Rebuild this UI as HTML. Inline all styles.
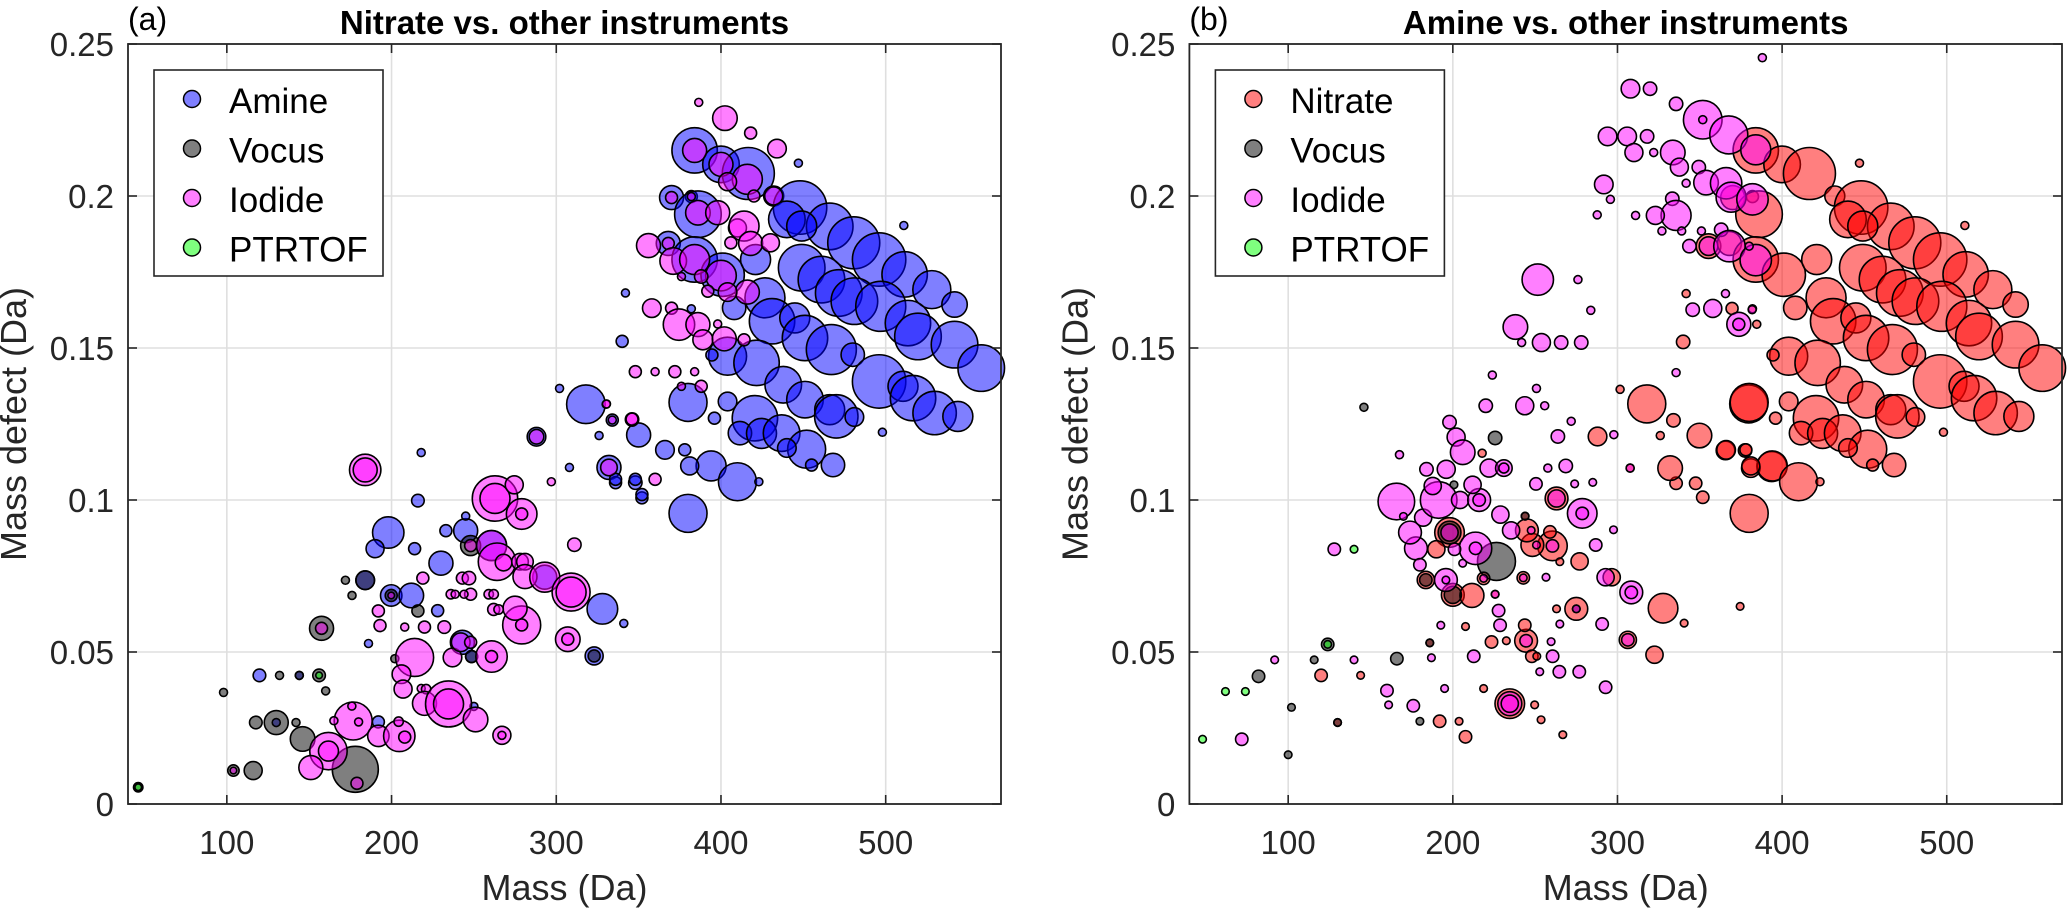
<!DOCTYPE html>
<html><head><meta charset="utf-8"><title>Mass defect plots</title>
<style>
html,body{margin:0;padding:0;background:#fff;}
svg{display:block;font-family:"Liberation Sans",Arial,sans-serif;}
</style></head>
<body>
<svg id="chart" width="2067" height="909" viewBox="0 0 2067 909" xmlns="http://www.w3.org/2000/svg"></svg>
<script>
// ---------- DATA: panel (a) ----------
const xTicks = [100, 200, 300, 400, 500];
const yTicks = [0, 0.05, 0.1, 0.15, 0.2, 0.25];
const yTickLabels = ["0", "0.05", "0.1", "0.15", "0.2", "0.25"];
const panelTitles = ["Nitrate vs. other instruments", "Amine vs. other instruments"];
const panelLetters = ["(a)", "(b)"];
const legendA = ["Amine", "Vocus", "Iodide", "PTRTOF"];
const legendB = ["Nitrate", "Vocus", "Iodide", "PTRTOF"];

const aAmineMass = [119.8,144,130,192,184,199.8,212,198,190,214,216,218,230,228,186,250,243,248.6,245,233,245,260.7,293,328,341,323,288,302,318,334,326,350,308,332,336,348,352,447,384,400,416.6,432,448,466,480.6,496,511.5,528,541.8,511,440,449,370,382,386,368,384,401,421,342,449,461,471.5,481,497,513.5,519.6,541.8,558,426.7,408,431,444.8,451,467,480,496,510.5,516.6,529.7,543.8,498,340,404,394.5,421.6,437.8,451,466,470,481,420.6,411.5,424.6,436.8,452,468,455,440,404,396,380,394,410,423,380,366,378,381,348,336,352,382];
const aAmineMD = [0.0423,0.0423,0.0268,0.027,0.0736,0.0686,0.0686,0.0893,0.084,0.084,0.0998,0.1156,0.0792,0.0636,0.0528,0.0321,0.0532,0.0485,0.0899,0.0899,0.0947,0.085,0.0746,0.0642,0.0594,0.0487,0.1208,0.1367,0.1315,0.1263,0.1212,0.1214,0.1107,0.1107,0.1057,0.1057,0.1007,0.2108,0.215,0.2104,0.2074,0.2,0.1962,0.19,0.1846,0.1791,0.1742,0.1692,0.1643,0.1903,0.1923,0.1901,0.1995,0.1998,0.194,0.1844,0.1791,0.1741,0.1791,0.1681,0.1764,0.1725,0.1681,0.1654,0.1637,0.1582,0.1538,0.1511,0.1434,0.1665,0.1632,0.1588,0.1599,0.1533,0.1495,0.1478,0.139,0.1374,0.1335,0.1286,0.1275,0.1223,0.1522,0.1473,0.1477,0.1451,0.1379,0.133,0.1297,0.1275,0.1273,0.1269,0.122,0.1219,0.122,0.1167,0.1115,0.1115,0.1171,0.1324,0.1269,0.1321,0.1112,0.106,0.106,0.0956,0.1165,0.1165,0.1112,0.1068,0.1068,0.1018,0.1629];
const aAmineSize = [6.3,4,4,6,9.3,10.7,12.3,15.7,9,6,6.3,4,12,6,4,4,12,6,12,6,4,15,12,15.3,4,9,9.3,4,19.3,6,4,12,4,12,6,6.7,6,4,22.7,18.3,26,10,26.7,23.3,26,26.7,22.7,19,12.7,4,18.3,15,12,6,23.3,12,22.7,21.7,15,4,23.3,23.3,23.3,23.3,25,22.7,23.3,23.3,23.3,20,11.7,22.7,15,22.7,25,11.7,26.7,15,22.7,21.7,15,4,6,19,6,22.7,18.3,18.3,15,21.7,9.3,22.7,11.7,15,18.3,19,11.7,6,9.3,9.3,6,19,15,19,4,19,9.3,6,9,6,6,6,4];

const aVocusMass = [98,104,116,132,144,156,160,117.6,130,142,146,178,157.5,172,184,176,199.8,216,202,248,248.6,323,46.2];
const aVocusMD = [0.0367,0.011,0.011,0.0423,0.0423,0.0423,0.0372,0.0268,0.0268,0.0268,0.0214,0.0114,0.0578,0.0736,0.0736,0.0686,0.0686,0.0635,0.0478,0.085,0.0485,0.0487,0.0055];
const aVocusSize = [4,5.7,9,4,4,6.3,4,6.3,12,4,12.3,23,12,4,9.3,4,6,6,4,10,6,6,4.7];

const aIodideMass = [104,161.7,161.7,151,179,176.7,175.9,180,165,192,204.7,208,204.3,157.5,184,184,192,193,208,220,232,219,199.8,214,206,207,218,221,220,234.6,234.6,251,267,267,237,242,248,260.7,260.7,279,279,275,262,265,259,262,236,238.6,248,244,243,247,248,260.7,264,268,278,281,281,293,309,309,307,307,262.8,262.8,274.5,279,279,311,288,330.3,334,346,297,332,386.5,402.4,418,434,384,400,416,404,432,420,370,382,386,398,410,414,418,430,406,356,368,371,384,400,388,376,416,404,392,358,370,374.5,386,389,402,414,398,348,360,372,384,388,376,330.5,346,360];
const aIodideMD = [0.011,0.0174,0.0174,0.012,0.0068,0.0273,0.0322,0.027,0.0274,0.0224,0.0224,0.022,0.0271,0.0578,0.1099,0.1099,0.0635,0.0587,0.0582,0.0582,0.0582,0.0743,0.0686,0.0482,0.0427,0.0378,0.038,0.0378,0.0331,0.0329,0.0329,0.0278,0.0226,0.0226,0.0482,0.0532,0.0532,0.0485,0.0485,0.0589,0.0589,0.0644,0.064,0.064,0.069,0.069,0.069,0.069,0.069,0.069,0.0743,0.0743,0.085,0.085,0.0797,0.0794,0.0797,0.0797,0.0748,0.0746,0.0697,0.0697,0.0542,0.0542,0.1005,0.1005,0.105,0.0954,0.0954,0.0853,0.1208,0.1315,0.1263,0.1265,0.106,0.1107,0.2308,0.2256,0.2207,0.2156,0.215,0.2104,0.2055,0.2047,0.2,0.2,0.1995,0.1998,0.1945,0.1945,0.1895,0.1901,0.1844,0.1846,0.1846,0.1837,0.1844,0.1786,0.1791,0.1738,0.1735,0.1735,0.1684,0.1684,0.1687,0.1631,0.1631,0.1577,0.1577,0.1527,0.153,0.1527,0.1579,0.1422,0.1422,0.1422,0.1422,0.1374,0.1374,0.1316,0.1266,0.1068];
const aIodideSize = [3.3,18.7,10,12,6,19,4,4,4,10.7,15.7,6,4.7,6,15.7,12,6,6,4,6,6.3,6,3.3,19,9.3,9,4,4.7,12,23,15,12.3,9,4,9.3,9.3,6,15.7,6,19,6,12,6,4.7,4.7,4.7,4.7,4,6,4,6,6.7,6,15,18.7,8.3,8.3,8.3,12,15,19,15,12.3,6,22.7,15,9,15.3,6,6.7,7.3,4,4,6.7,4,8.3,4,12.3,6,9.3,12,12,15,9,9,6,6,4,12.3,12,9,15,12,9,6,12,6,13.3,15,15.3,6.7,4,12,9.3,6,9.3,6,15.7,12,10,12,6,4,6,4,6,4,6,4,4,6,6];

const aPtrMass = [46.2, 156];
const aPtrMD = [0.0055, 0.0423];
const aPtrSize = [3.3, 3.3];

// ---------- DATA: panel (b) ----------
const bNitrateOwnMass = [120,130,144,192,203.8,207.7,218.7,186,207.7,223.5,232.5,244.5,243.7,248,251,234.6,249.7,253.6,266.8,275,263,306.3,322.5,327.7,340.5,374.5,296.5,277,260.5,248.3,245,259,265,243.9,263,351.8,347.5,335.6,218.7,242.8,198,190,183.6,200,211.6,225.7,217.8,287.9,317.8,334,326,349.8,379.7,365.6,377.5,393.7,381,332,307.7,301.6,339.9,341.7,369.6,384.6,355.3];
const bNitrateOwnMD = [0.0423,0.0268,0.0423,0.0272,0.0272,0.0221,0.038,0.053,0.0584,0.0533,0.0537,0.0537,0.0588,0.0486,0.0486,0.033,0.0326,0.0277,0.0228,0.0642,0.0642,0.054,0.0491,0.0644,0.0595,0.065,0.0746,0.0798,0.0849,0.0852,0.09,0.0895,0.0797,0.0947,0.1005,0.1009,0.1055,0.1055,0.0742,0.0744,0.0893,0.0838,0.0737,0.0688,0.0686,0.069,0.1154,0.1209,0.1316,0.1262,0.1212,0.1212,0.1316,0.1163,0.1163,0.111,0.1105,0.1105,0.1105,0.1364,0.152,0.1679,0.163,0.1578,0.1835];
const bNitrateOwnSize = [6.2,3.8,3.8,6.2,3.8,6.2,3.8,3.8,3.8,6.2,3.8,11.4,6.2,6.2,3.8,14.8,3.8,3.8,3.8,11.4,3.8,8.6,8.6,14.8,3.8,3.8,8.6,8.6,14.8,11.4,11.4,6.2,3.8,3.8,11.4,6.2,6.2,6.2,6.2,6.2,14.8,8.6,8.6,11.4,12,3.8,4,9.3,19,6.7,4,12.3,19,9.3,6.7,15,9.3,12.3,4,4,6.7,4,6,4,12.3];
// the large nitrate cluster coincides with the amine cluster of panel (a)
const bNitrateMass = bNitrateOwnMass.slice();
const bNitrateMD = bNitrateOwnMD.slice();
const bNitrateSize = bNitrateOwnSize.slice();
for (let i = 0; i < aAmineMass.length; i++) {
  if (aAmineMass[i] >= 360) { bNitrateMass.push(aAmineMass[i]); bNitrateMD.push(aAmineMD[i]); bNitrateSize.push(aAmineSize[i]); }
}

const bVocusMass = [100,82,102,115.8,124,130,166,180,186,226.5,243.9,198,183.6,200,275,200.7,146,225.7];
const bVocusMD = [0.0162,0.042,0.0318,0.0474,0.0525,0.0268,0.0478,0.0272,0.053,0.0798,0.0947,0.0893,0.0737,0.0688,0.0642,0.105,0.1305,0.1204];
const bVocusSize = [3.8,6.2,3.8,3.8,6.2,3.8,6.2,3.8,3.8,19,3.8,11.4,6.2,8.6,3.8,3.8,4,6.7];

const bIodideMass = [71.8,91.8,128,140,160,161,176,195,187,192.7,212.7,227.8,228.7,225.7,244.5,259.7,260.6,234.6,234.6,252.8,264.7,276.8,292.8,275,265,290.7,306.3,308.4,308.4,292.8,286.8,297.6,260.5,250.8,247.6,278.6,278.6,263,235.4,228.9,213.8,213.8,206,218.7,242.8,256.6,198,201,177.6,174,182,165.7,170,191.4,187.8,204.4,216,216,212,180,195.8,195.8,250.5,274,285,251.6,276,283.8,238,241.8,253.8,265.8,278,224,250.8,220,243.7,255.8,271.9,263.8,198,202,206,167.6,184,196,222,231,231,268.6,257.7,297.8,307.7,335.6,345.7,357.9,381.8,365.6,373.7,373.7,291.7,295.7,287.7,307.9,319.8,335.6,351.8,351.8,367.6,384,294,305.9,318,310,322,333.6,337.6,349.4,341.7,353.8,366,369,382,333.3,335.6,323,311,327,339,351,363,355.3,368,384,343.7,380,388];
const bIodideMD = [0.0213,0.0474,0.0838,0.0474,0.0373,0.0326,0.0323,0.038,0.0481,0.0588,0.0486,0.0636,0.0588,0.069,0.0537,0.0534,0.0486,0.033,0.033,0.0435,0.0435,0.0435,0.0384,0.0642,0.0592,0.0592,0.054,0.0696,0.0696,0.0746,0.0852,0.0902,0.0849,0.0852,0.09,0.0956,0.0956,0.1005,0.09,0.0952,0.0841,0.0841,0.0792,0.0742,0.0744,0.0746,0.0893,0.0838,0.0841,0.0893,0.0942,0.0995,0.0946,0.1,0.1046,0.1,0.1,0.1,0.105,0.0787,0.0737,0.0737,0.1053,0.1053,0.1058,0.1725,0.1725,0.1624,0.1569,0.1518,0.1518,0.1518,0.1518,0.1411,0.1367,0.131,0.131,0.131,0.1259,0.1209,0.1256,0.1207,0.1157,0.1149,0.1101,0.1101,0.1105,0.1105,0.1105,0.1112,0.1105,0.1215,0.1105,0.1419,0.1626,0.163,0.1626,0.1679,0.1578,0.1578,0.2038,0.1989,0.1938,0.2353,0.2353,0.2303,0.2251,0.2251,0.2201,0.2152,0.2196,0.2196,0.2196,0.2143,0.2143,0.2143,0.2095,0.2095,0.2042,0.2044,0.2042,0.1996,0.1989,0.1991,0.1936,0.1936,0.1936,0.1885,0.1885,0.1885,0.1889,0.1835,0.1835,0.1789,0.1835,0.1835,0.2455];
const bIodideSize = [6.2,3.8,6.2,3.8,6.2,3.8,6.2,3.8,3.8,3.8,6.2,6.2,6.2,3.8,6.2,3.8,6.2,12,8.6,3.8,6.2,6.2,6.2,3.8,3.8,6.2,6.2,11.4,6.2,8.6,6.2,3.8,6.2,3.8,3.8,14.8,6.2,8.6,8.6,8.6,16.2,6.2,3.8,3.8,3.8,3.8,8.6,6.2,11.4,11.4,8.6,18.3,3.8,18.3,8.6,8.6,11.4,6.2,8.6,6.2,11.4,3.8,6.2,3.8,3.8,15.7,4,4,12.3,4,9,6.7,6.7,4,4,6.7,9,4,4,6.7,6.7,9,12.3,4,6.7,9,9,8.3,5,6.7,4,4,4,4,6.7,9,4,4,12,6,9.3,4,4,9.3,6.7,6.7,19.3,4,19,15,9.3,9.3,6.7,9,4,12.3,9,6.7,4,12.3,15.7,15,15.7,6.7,15,9,4,4,4,4,6.7,9.3,15.7,15.7,6.7,4,4];

const bPtrMass = [48, 61.9, 74, 124, 140];
const bPtrMD = [0.0213, 0.037, 0.037, 0.0525, 0.0838];
const bPtrSize = [3.8, 3.8, 3.8, 3.8, 3.8];

// ---------- RENDERING ----------
const NS = "http://www.w3.org/2000/svg";
const svg = document.getElementById("chart");
const X_MIN = 40, X_MAX = 570, Y_MIN = 0, Y_MAX = 0.25;
const PLOT_TOP = 44, PLOT_BOTTOM = 804;
const COLORS = {
  blue: "rgba(0,0,255,0.5)", gray: "rgba(0,0,0,0.5)", magenta: "rgba(255,0,255,0.5)",
  green: "rgba(0,255,0,0.5)", red: "rgba(255,0,0,0.5)"
};
function el(tag, attrs, parent) {
  const e = document.createElementNS(NS, tag);
  for (const k in attrs) e.setAttribute(k, attrs[k]);
  (parent || svg).appendChild(e);
  return e;
}
function rScale(s) { return s; }

function drawPanel(idx, left, right, series, legendLabels) {
  const xs = m => left + (m - X_MIN) / (X_MAX - X_MIN) * (right - left);
  const ys = d => PLOT_BOTTOM - (d - Y_MIN) / (Y_MAX - Y_MIN) * (PLOT_BOTTOM - PLOT_TOP);
  const g = el("g", {});
  
  
  const grid = el("g", {stroke: "#dfdfdf", "stroke-width": 1.6}, g);
  
  
  xTicks.forEach(t => el("line", {x1: xs(t), x2: xs(t), y1: PLOT_TOP, y2: PLOT_BOTTOM}, grid));
  yTicks.forEach(t => el("line", {x1: left, x2: right, y1: ys(t), y2: ys(t)}, grid));
  const marks = el("g", {stroke: "#000", "stroke-width": 1.6}, g);
  
  
  series.forEach(s => {
    for (let i = 0; i < s.mass.length; i++) {
      const c = el("circle", {cx: xs(s.mass[i]), cy: ys(s.md[i]), r: rScale(s.size[i]), fill: COLORS[s.color]}, marks);
      
      
    }
  });
  const box = el("rect", {x: left, y: PLOT_TOP, width: right - left, height: PLOT_BOTTOM - PLOT_TOP, fill: "none", stroke: "#262626", "stroke-width": 1.8}, g);
  
  
  const ticks = el("g", {stroke: "#262626", "stroke-width": 1.6}, g);
  
  
  xTicks.forEach(t => {
    el("line", {x1: xs(t), x2: xs(t), y1: PLOT_BOTTOM, y2: PLOT_BOTTOM - 9}, ticks);
    el("line", {x1: xs(t), x2: xs(t), y1: PLOT_TOP, y2: PLOT_TOP + 9}, ticks);
    const tl = el("text", {x: xs(t), y: 854, "font-size": 33, "text-anchor": "middle", fill: "#262626"}, g);
    tl.textContent = String(t);
    
    
  });
  yTicks.forEach((t, i) => {
    el("line", {x1: left, x2: left + 9, y1: ys(t), y2: ys(t)}, ticks);
    el("line", {x1: right, x2: right - 9, y1: ys(t), y2: ys(t)}, ticks);
    const tl = el("text", {x: left - 14, y: ys(t) + 12, "font-size": 33, "text-anchor": "end", fill: "#262626"}, g);
    tl.textContent = yTickLabels[i];
    
    
  });
  const cx = (left + right) / 2;
  const xl = el("text", {x: cx, y: 900, "font-size": 36, "text-anchor": "middle", fill: "#262626"}, g);
  xl.textContent = "Mass (Da)";
  
  
  const yx = left - 102, yy = 424;
  const yl = el("text", {x: yx, y: yy, "font-size": 36, "text-anchor": "middle", fill: "#262626", transform: "rotate(-90 " + yx + " " + yy + ")"}, g);
  yl.textContent = "Mass defect (Da)";
  
  
  const ti = el("text", {x: cx, y: 34, "font-size": 33, "font-weight": "bold", "text-anchor": "middle", fill: "#000"}, g);
  ti.textContent = panelTitles[idx];
  
  
  const lt = el("text", {x: left, y: 30, "font-size": 32, fill: "#000"}, g);
  lt.textContent = panelLetters[idx];
  
  
  const lg = el("g", {}, g);
  
  
  el("rect", {x: left + 26, y: 70, width: 229, height: 206, fill: "#fff", stroke: "#262626", "stroke-width": 1.6}, lg);
  legendLabels.forEach((lab, i) => {
    const s = series[i];
    const row = el("g", {}, lg);
    
    
    el("circle", {cx: left + 64, cy: 99 + i * 49.5, r: 8.5, fill: COLORS[s.color], stroke: "#000", "stroke-width": 1.5}, row);
    const t = el("text", {x: left + 101, y: 113 + i * 49.5, "font-size": 35, fill: "#000"}, row);
    t.textContent = lab;
  });
}

drawPanel(0, 128, 1001, [
  {name: "amine", color: "blue", mass: aAmineMass, md: aAmineMD, size: aAmineSize},
  {name: "vocus", color: "gray", mass: aVocusMass, md: aVocusMD, size: aVocusSize},
  {name: "iodide", color: "magenta", mass: aIodideMass, md: aIodideMD, size: aIodideSize},
  {name: "ptrtof", color: "green", mass: aPtrMass, md: aPtrMD, size: aPtrSize}
], legendA);
drawPanel(1, 1189.4, 2062, [
  {name: "nitrate", color: "red", mass: bNitrateMass, md: bNitrateMD, size: bNitrateSize},
  {name: "vocus", color: "gray", mass: bVocusMass, md: bVocusMD, size: bVocusSize},
  {name: "iodide", color: "magenta", mass: bIodideMass, md: bIodideMD, size: bIodideSize},
  {name: "ptrtof", color: "green", mass: bPtrMass, md: bPtrMD, size: bPtrSize}
], legendB);
</script>
</body></html>
